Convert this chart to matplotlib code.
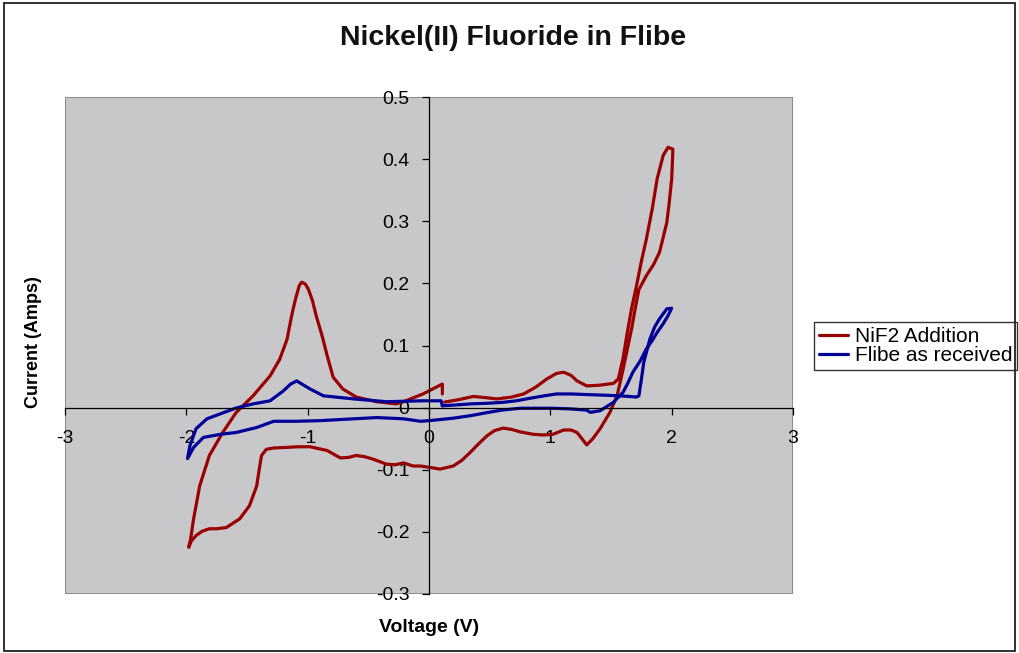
import matplotlib
matplotlib.use("Agg")
import matplotlib.pyplot as plt
from matplotlib.patches import Rectangle
from matplotlib.ticker import FuncFormatter, MultipleLocator

plt.rcParams['font.family'] = ['Liberation Sans', 'DejaVu Sans']
plt.rcParams['axes.unicode_minus'] = False

# NiF2 Addition (red) - one CV loop, in sweep order
nif2_v = [0.13, 0.25, 0.365, 0.47, 0.56, 0.68, 0.78, 0.88, 0.97, 1.05, 1.11, 1.17, 1.22, 1.30, 1.40,
          1.52, 1.56, 1.60, 1.63, 1.67, 1.71, 1.75, 1.79, 1.84, 1.88, 1.93, 1.97, 2.01, 2.005, 2.0,
          1.98, 1.96, 1.90, 1.85, 1.79, 1.73, 1.70, 1.67, 1.63, 1.60, 1.55, 1.49, 1.41, 1.35, 1.30,
          1.26, 1.22, 1.17, 1.11, 1.02, 0.94, 0.86, 0.75, 0.68, 0.61, 0.54, 0.48, 0.41, 0.34, 0.27,
          0.20, 0.09, 0.0, -0.07, -0.13, -0.21, -0.28, -0.35, -0.46, -0.53, -0.60, -0.66, -0.73, -0.84,
          -0.98, -1.08, -1.17, -1.28, -1.34, -1.38, -1.40, -1.42, -1.48, -1.56, -1.67, -1.75, -1.81,
          -1.87, -1.92, -1.96, -1.98, -1.975, -1.965, -1.94, -1.89, -1.81, -1.70, -1.59, -1.45, -1.31,
          -1.23, -1.17, -1.13, -1.10, -1.07, -1.05, -1.02, -0.995, -0.96, -0.93, -0.88, -0.84, -0.79,
          -0.71, -0.60, -0.43, -0.27, -0.21, -0.05, 0.11, 0.11]
nif2_i = [0.009, 0.013, 0.018, 0.016, 0.014, 0.017, 0.022, 0.033, 0.046, 0.055, 0.057, 0.052, 0.043, 0.035, 0.036,
          0.039, 0.046, 0.080, 0.116, 0.160, 0.196, 0.235, 0.270, 0.320, 0.368, 0.406, 0.419, 0.416, 0.390, 0.368,
          0.330, 0.298, 0.250, 0.230, 0.212, 0.190, 0.160, 0.127, 0.090, 0.062, 0.019, -0.008, -0.034, -0.050, -0.060,
          -0.050, -0.040, -0.036, -0.036, -0.043, -0.044, -0.043, -0.039, -0.035, -0.033, -0.037, -0.045, -0.058, -0.072, -0.085,
          -0.094, -0.099, -0.096, -0.094, -0.094, -0.089, -0.092, -0.091, -0.083, -0.079, -0.077, -0.080, -0.081, -0.069,
          -0.063, -0.063, -0.064, -0.065, -0.067, -0.077, -0.100, -0.126, -0.158, -0.179, -0.193, -0.195, -0.195,
          -0.199, -0.206, -0.215, -0.225, -0.220, -0.212, -0.179, -0.126, -0.077, -0.040, -0.008, 0.019, 0.051,
          0.078, 0.110, 0.150, 0.175, 0.196, 0.202, 0.199, 0.191, 0.172, 0.148, 0.115, 0.084, 0.049,
          0.030, 0.017, 0.0095, 0.006, 0.0095, 0.022, 0.038, 0.022]

# Flibe as received (blue)
flibe_v = [0.11, 0.20, 0.34, 0.48, 0.61, 0.72, 0.83, 0.95, 1.05, 1.17, 1.30, 1.45, 1.57, 1.65, 1.71,
           1.73, 1.75, 1.77, 1.82, 1.86, 1.90, 1.96, 2.0, 1.97, 1.93, 1.88, 1.84, 1.79, 1.74, 1.68,
           1.64, 1.60, 1.52, 1.41, 1.33, 1.30, 1.16, 1.02, 0.75, 0.60, 0.48, 0.34, 0.20, 0.0, -0.07,
           -0.21, -0.43, -0.62, -0.90, -1.10, -1.28, -1.42, -1.59, -1.72, -1.86, -1.94, -1.99, -1.97,
           -1.92, -1.83, -1.72, -1.59, -1.45, -1.31, -1.20, -1.14, -1.09, -1.04, -0.98, -0.87, -0.62,
           -0.35, -0.05, 0.10, 0.11]
flibe_i = [0.003, 0.004, 0.006, 0.007, 0.0085, 0.011, 0.015, 0.019, 0.022, 0.022, 0.021, 0.020, 0.019, 0.018, 0.017,
           0.019, 0.045, 0.073, 0.110, 0.130, 0.143, 0.159, 0.160, 0.148, 0.135, 0.121, 0.108, 0.094, 0.075, 0.057,
           0.040, 0.025, 0.0085, -0.005, -0.0076, -0.004, -0.002, -0.001, -0.001, -0.004, -0.008, -0.013, -0.017, -0.021, -0.022,
           -0.018, -0.016, -0.018, -0.021, -0.022, -0.022, -0.032, -0.040, -0.043, -0.048, -0.064, -0.082, -0.061,
           -0.034, -0.018, -0.010, -0.0006, 0.006, 0.011, 0.027, 0.038, 0.043, 0.037, 0.030, 0.019, 0.014,
           0.0095, 0.011, 0.011, 0.003]

series_labels = ["NiF2 Addition", "Flibe as received"]
x_ticks = [-3, -2, -1, 0, 1, 2, 3]

W, H = 1020, 653
fig = plt.figure(figsize=(W / 100, H / 100), dpi=100)

# outer chart frame
fig.patches.append(Rectangle((4 / W, 2 / H), 1011 / W, 648 / H, transform=fig.transFigure,
                             fill=False, edgecolor='#202020', linewidth=1.3))

ax = fig.add_axes([65 / W, 1 - 594 / H, (793 - 65) / W, (594 - 97) / H])
ax.set_facecolor('#c8c8ca')

ax.plot(nif2_v, nif2_i, color='#990000', lw=2.3, label=series_labels[0],
        solid_joinstyle='round', solid_capstyle='round')
ax.plot(flibe_v, flibe_i, color='#000099', lw=2.3, label=series_labels[1],
        solid_joinstyle='round', solid_capstyle='round')

ax.set_xlim(-3, 3)
ax.set_ylim(-0.3, 0.5)
ax.set_xticks(x_ticks)
ax.yaxis.set_major_locator(MultipleLocator(0.1))
ax.yaxis.set_major_formatter(FuncFormatter(lambda v, p: '%g' % round(v, 2)))
ax.xaxis.set_major_formatter(FuncFormatter(lambda v, p: '%g' % v))

for s in ['top', 'right']:
    ax.spines[s].set_visible(False)
ax.spines['left'].set_position(('data', 0))
ax.spines['bottom'].set_position(('data', 0))
ax.spines['left'].set_color('black')
ax.spines['bottom'].set_color('black')
ax.spines['left'].set_linewidth(0.9)
ax.spines['bottom'].set_linewidth(0.9)
ax.add_patch(Rectangle((0, 0), 1, 1, transform=ax.transAxes, fill=False,
                       edgecolor='#808080', linewidth=1.2, zorder=0.5))

ax.tick_params(axis='x', direction='out', length=5, width=0.9, pad=11, labelsize=14, colors='black')
ax.tick_params(axis='y', direction='out', length=5, width=0.9, pad=9, labelsize=14, colors='black')

fig.text(0.503, 1 - 38 / H, "Nickel(II) Fluoride in Flibe", ha='center', va='center',
         fontsize=20.5, fontweight='bold', color='#111111')
fig.text(34 / W, 1 - 342 / H, "Current (Amps)", rotation=90, ha='center', va='center',
         fontsize=13, fontweight='bold')
fig.text(429 / W, 1 - 628 / H, "Voltage (V)", ha='center', va='center',
         fontsize=14, fontweight='bold')

leg = ax.legend(loc='center left', bbox_to_anchor=(814 / W, 1 - 346 / H),
                bbox_transform=fig.transFigure, fontsize=15, frameon=True, fancybox=False,
                borderpad=0.25, labelspacing=0.0, handlelength=1.4, handletextpad=0.3,
                borderaxespad=0)
leg.get_frame().set_edgecolor('black')
leg.get_frame().set_linewidth(1.0)

fig.savefig("out.png", dpi=100)
